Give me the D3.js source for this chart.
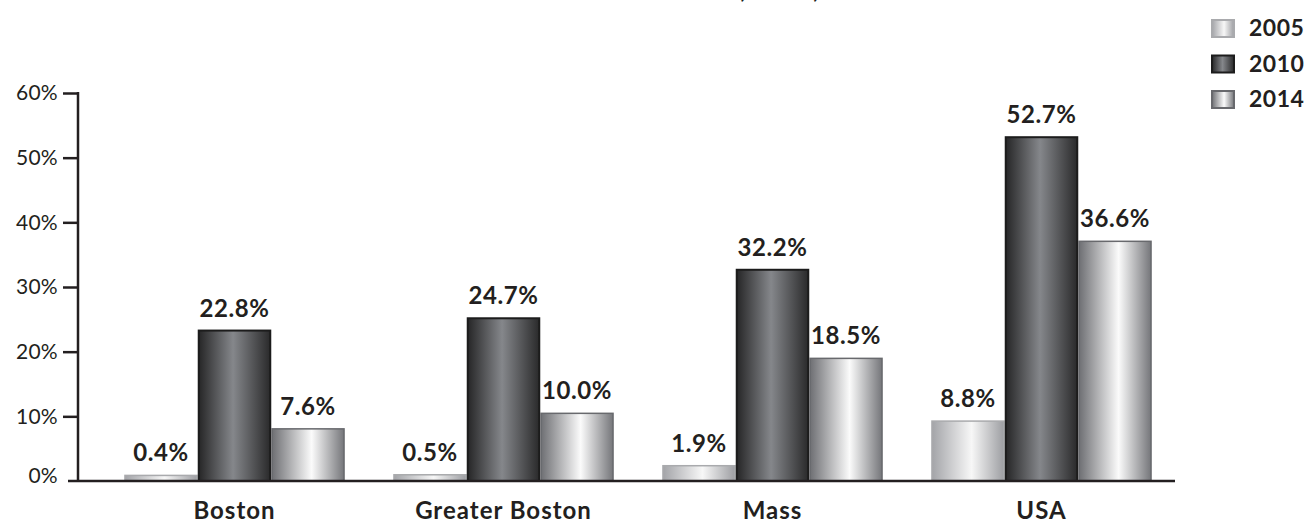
<!DOCTYPE html>
<html>
<head>
<meta charset="utf-8">
<script src="https://cdn.jsdelivr.net/npm/d3@7"></script>
<style>
  body { margin: 0; background: #fff; }
  text { font-family: Lato, "Open Sans", sans-serif; fill: #231f20; }
</style>
</head>
<body>
<script>
const svgWidth = 1309;
const svgHeight = 523;

const regions = ['Boston', 'Greater Boston', 'Mass', 'USA'];
const years = ['2005', '2010', '2014'];
const values2005 = [0.4, 0.5, 1.9, 8.8];
const values2010 = [22.8, 24.7, 32.2, 52.7];
const values2014 = [7.6, 10.0, 18.5, 36.6];
const yTicks = [0, 10, 20, 30, 40, 50, 60];
const titleText = '2005, 2010, 2014';

const rows = regions.map((r, i) => ({
    region: r,
    values: [values2005[i], values2010[i], values2014[i]]
}));

// gradient look for each year
const styles = {
    '2005': { stops: [['0%', '#a3a4a8'], ['55%', '#f7f7f7'], ['100%', '#9d9ea2']], stroke: '#a9aaad', sw: 1.5 },
    '2010': { stops: [['0%', '#262627'], ['48%', '#85878b'], ['100%', '#2a2a2b']], stroke: '#1c1c1c', sw: 2 },
    '2014': { stops: [['0%', '#6e6f73'], ['55%', '#fbfbfb'], ['100%', '#75767a']], stroke: '#68696d', sw: 1.5 }
};

const svg = d3.select('body').append('svg').attr('width', svgWidth).attr('height', svgHeight);

const defs = svg.append('defs');
years.forEach(y => {
    const g = defs.append('linearGradient').attr('id', 'grad' + y)
        .attr('x1', '0%').attr('x2', '100%').attr('y1', '0%').attr('y2', '0%');
    styles[y].stops.forEach(s => g.append('stop').attr('offset', s[0]).attr('stop-color', s[1]));
});

const x0 = d3.scaleBand().domain(regions).range([100, 1176]).paddingInner(0.18).paddingOuter(0.09);
const x1 = d3.scaleBand().domain(years).range([0, x0.bandwidth()]);
const y = d3.scaleLinear().domain([0, 60]).range([481, 93]);

// title (mostly above the page edge, like the reference)
const title = svg.append('text').attr('y', -2).attr('x', 0)
    .style('font-size', '26px').style('font-weight', 'bold').text(titleText);
const commaX = title.node().getStartPositionOfChar(4).x;
title.attr('x', 740 - commaX);

// y axis
const yAxis = svg.append('g').attr('transform', 'translate(78,0)')
    .call(d3.axisLeft(y).tickValues(yTicks.slice(1)).tickSize(15).tickPadding(5).tickFormat(d => d + '%'));
yAxis.select('.domain').remove();
yAxis.selectAll('line').attr('stroke', '#231f20').attr('stroke-width', 2.5);
yAxis.selectAll('text').style('font-size', '21px').style('font-family', 'Lato, sans-serif')
    .style('letter-spacing', '0.3px').attr('fill', '#231f20');

svg.append('line').attr('x1', 78).attr('x2', 78).attr('y1', y(60) - 1).attr('y2', y(0))
    .attr('stroke', '#231f20').attr('stroke-width', 2.5);
svg.append('text').attr('x', 58).attr('y', y(0)).attr('dy', '0.1em')
    .attr('text-anchor', 'end').style('font-size', '21px').style('letter-spacing', '0.3px')
    .text(yTicks[0] + '%');

// bars
const groups = svg.selectAll('g.region').data(rows).enter().append('g').classed('region', true)
    .attr('transform', d => `translate(${x0(d.region)},0)`);

groups.selectAll('rect').data(d => d.values.map((v, i) => ({ year: years[i], value: v })))
    .enter().append('rect')
    .attr('x', d => x1(d.year) + styles[d.year].sw / 2)
    .attr('width', d => x1.bandwidth() - styles[d.year].sw)
    .attr('y', d => y(d.value) - 3)
    .attr('height', d => y(0) - y(d.value) + 3)
    .attr('fill', d => `url(#grad${d.year})`)
    .attr('stroke', d => styles[d.year].stroke)
    .attr('stroke-width', d => styles[d.year].sw);

groups.selectAll('text.val').data(d => d.values.map((v, i) => ({ year: years[i], value: v })))
    .enter().append('text').classed('val', true)
    .attr('x', d => x1(d.year) + x1.bandwidth() / 2)
    .attr('y', d => y(d.value) - 17)
    .attr('text-anchor', 'middle')
    .style('font-size', '24px').style('font-weight', 'bold').style('letter-spacing', '0.6px')
    .text(d => d.value.toFixed(1) + '%');

// baseline
svg.append('line').attr('x1', 68).attr('x2', 1175).attr('y1', y(0)).attr('y2', y(0))
    .attr('stroke', '#231f20').attr('stroke-width', 2.5);

// category labels
svg.selectAll('text.cat').data(regions).enter().append('text').classed('cat', true)
    .attr('x', d => x0(d) + x0.bandwidth() / 2)
    .attr('y', 519)
    .attr('text-anchor', 'middle')
    .style('font-size', '24px').style('font-weight', 'bold').style('letter-spacing', '1px')
    .text(d => d);

// legend
const legend = svg.selectAll('g.legend').data(years).enter().append('g').classed('legend', true)
    .attr('transform', (d, i) => `translate(1212,${28 + i * 35.5})`);
legend.append('rect').attr('x', 0).attr('y', -8).attr('width', 22).attr('height', 17)
    .attr('fill', d => `url(#grad${d})`)
    .attr('stroke', d => styles[d].stroke).attr('stroke-width', 2);
legend.append('text').attr('x', 37).attr('y', 0).attr('dy', '0.35em')
    .style('font-size', '23px').style('font-weight', 'bold').style('letter-spacing', '0.5px')
    .text(d => d);
</script>
</body>
</html>
